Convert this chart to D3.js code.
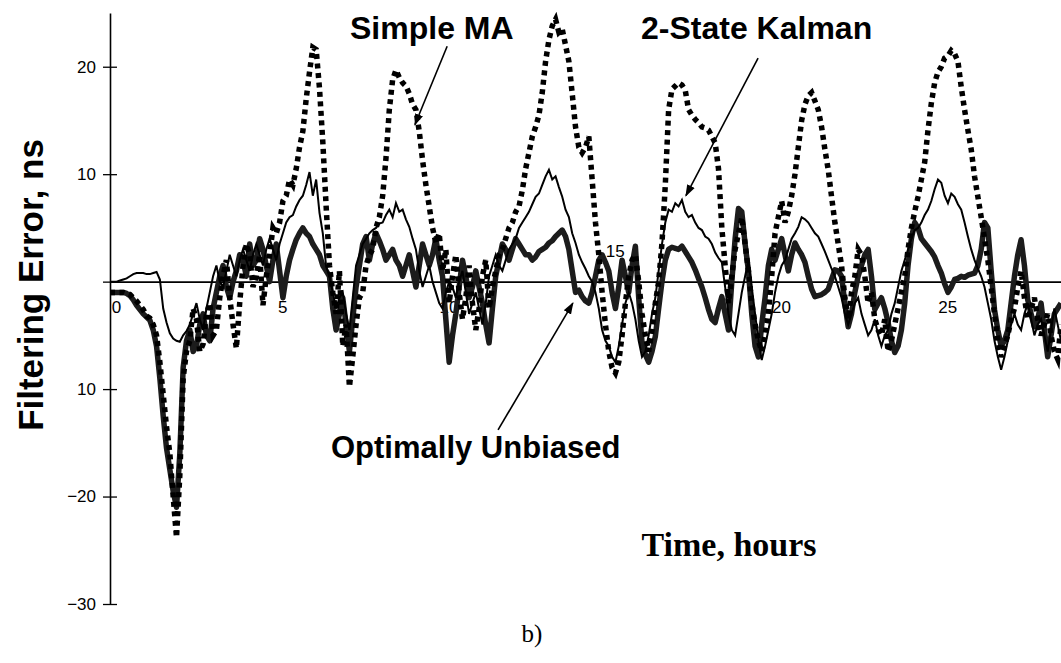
<!DOCTYPE html>
<html>
<head>
<meta charset="utf-8">
<script src="https://cdn.jsdelivr.net/npm/d3@7"></script>
<style>
  body { margin: 0; background: #fff; }
  svg { display: block; }
</style>
</head>
<body>
<svg id="chart" width="1061" height="663"></svg>
<script>
// sampling times, hours (one reading every 0.1 h, 0 .. 28.6)
var hours = d3.range(287).map(function(i) { return +(i * 0.1).toFixed(1); });

// filtering error, ns
var simpleMA = [
  -1.0, -1.0, -1.0, -1.0, -1.0, -1.1, -1.2, -1.5, -1.8, -2.2, -2.6, -3.2, -3.4, -4.0, -5.0, -7.5, -10.5, -13.5, -16, -20,
  -23.8, -18, -9, -6.5, -5.5, -2.5, -3.5, -6.5, -5.8, -3.0, -2.0, -5.0, -4.5, -1.5, 0.5, 2.0, -1.5, -4.0, -6.2, -2.0,
  1.5, 3.5, 2.5, -0.5, 0.5, 2.5, -2.2, 0.5, 2.5, 5.0, 4.5, 5.5, 7.5, 8.0, 9.5, 9.0, 10.5, 12.5, 14, 17,
  19.5, 21.8, 21.6, 18, 13, 7, 1.5, -1.0, -3.0, 1.0, -6.0, -4.0, -9.8, -7.0, -4.0, -1.5, -1.0, 1.5, 2.5, 3.0,
  5.0, 6.0, 8.0, 11.5, 16, 18.8, 19.7, 19.0, 18.5, 18.2, 17.5, 16.5, 16, 14.0, 11.3, 9.0, 7.0, 5.0, 3.6, 4.5,
  1.0, 3.0, -2.0, 0.5, 2.5, -1.0, -3.5, -1.5, 1.5, -2.0, -4.5, -2.5, 0.5, 2.0, -2.5, -0.5, 1.0, 2.5, 3.0, 4.0,
  5.0, 5.5, 6.5, 7.0, 8.5, 10.5, 12, 13.5, 14.4, 15.5, 17.6, 20.5, 22.5, 23.8, 24.4, 23.2, 23.5, 22.0, 20.5, 17.5,
  14.4, 12.5, 12, 12.5, 13.5, 9.5, 5.5, 2.5, -1.0, -4.0, -6.5, -8.0, -8.5, -7.5, -5.0, -2.0, 0.5, 2.0, 2.5, 0.0,
  -3.0, -5.0, -6.5, -4.5, -2.0, 0.0, 3.6, 9.0, 16, 17.9, 18.2, 18.5, 18.3, 17.8, 16, 15.5, 15.1, 14.8, 14.4, 14.3,
  14.1, 13.5, 12.9, 10.5, 5.0, 1.5, -2.0, 0.5, 3.0, 4.5, 6.0, 3.5, 1.0, -2.0, -4.0, -5.5, -6.5, -5.0, -3.0, 0.5,
  4.5, 6.0, 7.5, 5.5, 6.5, 8.0, 10, 12.5, 15, 16.5, 17.3, 17.6, 16.8, 16.0, 14.4, 12.3, 10.4, 7.9, 5.5, 3.5,
  1.5, -1.5, -3.5, -1.0, 0.5, 3.0, 2.5, 0.5, -2.0, -1.0, -3.5, -4.5, -5.0, -3.5, -6.5, -5.5, -4.0, -2.5, -1.0, 0.5,
  3.0, 5.0, 6.5, 7.9, 9.5, 11.1, 14.1, 16.6, 18.5, 19.5, 20, 20.8, 21, 21.5, 21.2, 20.5, 18.1, 16.0, 14.1, 12.3,
  9.8, 7.9, 6.0, 4.0, 2.0, -0.5, -3.0, -5.5, -7.0, -6.0, -5.0, -3.5, -2.5, -0.5, 1.0, -1.5, -3.5, -2.5, -1.5, -3.5,
  -5.0, -4.0, -3.0, -5.0, -6.5, -7.2, -4.0
];

var kalman2 = [
  0, 0, 0, 0.1, 0.2, 0.3, 0.5, 0.7, 0.8, 0.8, 0.8, 0.7, 0.7, 0.8, 0.9, 0.2, -2.5, -3.8, -4.8, -5.3,
  -5.5, -5.6, -5.0, -4.6, -4.0, -3.0, -2.0, -3.5, -4.5, -2.5, -1.0, 0.5, 1.5, 0.0, -0.5, 1.0, 2.5, 1.5, 0.5, 2.0,
  3.0, 2.0, 1.0, 2.5, 3.5, 2.5, 1.5, 3.0, 4.0, 3.0, 2.0, 3.5, 4.5, 5.5, 6.0, 6.2, 7.0, 7.6, 8.0, 9.0,
  10.2, 8.0, 9.5, 6.4, 4.5, 1.4, 0.5, -1.0, -2.5, -1.5, -1.0, -3.0, -4.5, -1.5, 1.5, 2.5, 3.5, 4.0, 4.5, 4.8,
  5.0, 5.4, 5.5, 6.2, 6.7, 6.0, 7.3, 6.5, 6.7, 5.8, 5.1, 4.0, 3.0, 1.0, -0.5, 0.5, 1.5, 0.0, -1.0, -2.0,
  -2.5, -1.0, 0.0, -0.5, -1.5, 0.0, 1.0, -1.0, -3.0, -2.0, -1.0, -2.5, -4.0, -2.0, 0.5, 1.5, 2.5, 1.5, 1.0, 2.0,
  3.0, 3.5, 4.0, 5.0, 5.5, 6.0, 6.5, 7.2, 7.9, 8.2, 9.0, 9.8, 10.4, 9.5, 9.8, 8.8, 7.9, 6.7, 6.0, 4.5,
  3.6, 2.5, 1.8, 1.2, 0.5, 0.0, -1.0, -2.5, -4.5, -5.5, -6.0, -7.0, -7.5, -6.0, -4.0, -2.0, -1.0, -2.0, -3.5, -5.5,
  -7.0, -6.5, -5.0, -3.0, -1.5, 1.0, 3.5, 5.5, 6.7, 6.5, 7.3, 7.0, 7.6, 6.5, 6.0, 6.2, 5.5, 5.0, 4.8, 4.2,
  4.0, 3.5, 2.7, 2.2, 1.8, -0.5, -3.0, -4.5, -5.0, -3.0, -1.0, 0.5, 2.0, -0.5, -3.0, -5.5, -7.3, -6.0, -4.5, -3.0,
  -1.0, 0.5, 1.5, 2.0, 3.0, 4.0, 4.5, 5.1, 6.0, 5.8, 5.5, 5.0, 4.5, 4.2, 3.5, 2.8, 2.0, 1.2, 0.5, -0.5,
  -1.5, -3.0, -4.0, -3.0, -2.0, -1.5, -3.0, -4.0, -5.0, -4.5, -3.5, -5.0, -6.0, -5.0, -4.5, -3.0, -2.0, -0.5, 1.0, 2.0,
  3.0, 4.0, 4.8, 5.0, 5.5, 6.2, 6.7, 7.5, 8.6, 9.5, 9.2, 8.0, 7.3, 8.2, 7.9, 7.2, 6.7, 5.5, 4.2, 3.0,
  2.0, 1.2, 0.5, -0.5, -2.0, -3.5, -5.5, -7.0, -8.2, -7.0, -5.5, -4.0, -3.0, -4.0, -4.5, -3.0, -2.0, -3.5, -5.0, -4.0,
  -3.5, -5.0, -6.5, -4.5, -2.5, -4.0, -5.5
];

var optUnbiased = [
  -1.0, -1.0, -1.0, -1.0, -1.0, -1.1, -1.3, -1.7, -2.2, -2.6, -3.0, -3.3, -3.6, -4.5, -6.0, -9.0, -12.5, -15.5, -17.5, -19.5,
  -21.0, -16, -8.0, -5.5, -4.5, -6.5, -6.0, -4.0, -3.0, -5.0, -5.5, -2.5, -1.0, 0.5, 1.5, -0.5, -1.5, 0.0, 1.0, 2.5,
  2.0, 0.5, 3.5, 1.5, 2.0, 4.0, 3.0, 1.5, 0.0, 2.0, 3.5, 1.0, -1.5, 0.5, 2.0, 3.0, 3.9, 4.5, 5.0, 4.5,
  4.2, 3.5, 3.0, 2.5, 1.5, 1.0, 0.5, -2.5, -4.5, -3.0, -1.5, -4.0, -6.5, -3.5, -0.5, 1.5, 3.5, 4.2, 2.0, 3.5,
  4.5, 3.8, 3.0, 2.0, 2.5, 3.0, 2.0, 1.5, 0.5, 1.5, 2.5, 1.0, -0.5, 1.5, 3.5, 2.5, 1.5, 2.5, 4.0, 2.0,
  0.5, -3.5, -7.5, -5.0, -3.0, -0.5, 2.0, 0.5, -1.5, -0.5, 1.0, -0.5, -2.0, -4.0, -5.7, -2.5, 0.5, 2.0, 3.5, 3.0,
  2.0, 3.0, 4.0, 3.5, 3.0, 2.5, 2.5, 2.0, 2.3, 2.8, 3.0, 3.2, 3.6, 3.8, 4.2, 4.5, 4.8, 4.2, 3.0, 1.0,
  -1.0, -0.8, -1.4, -1.8, -2.0, -1.0, 0.5, 2.0, 2.5, 1.8, 1.0, -1.0, -2.5, -0.5, 2.0, 0.5, -1.0, 1.5, 3.3, -1.5,
  -5.7, -6.8, -7.5, -6.5, -5.1, -2.5, 0.0, 2.0, 3.0, 3.2, 3.1, 3.0, 3.3, 2.8, 2.3, 1.8, 1.1, 0.3, -0.5, -1.5,
  -2.6, -3.5, -3.8, -2.5, -1.4, -3.0, -4.5, 0.0, 4.0, 6.8, 6.5, 3.5, 1.0, -3.0, -6.0, -7.0, -4.0, -1.5, 1.5, 3.0,
  2.0, 3.0, 4.0, 2.5, 1.0, 2.5, 3.6, 3.0, 2.5, 1.8, 0.5, -0.7, -1.4, -1.3, -1.2, -1.0, -0.7, 0.2, 1.1, 1.0,
  0.5, -2.0, -4.2, -3.0, -1.0, 0.5, 1.5, 2.5, 3.0, 0.5, -2.6, -2.0, -1.5, -2.5, -3.8, -5.5, -6.6, -6.0, -4.5, -2.0,
  1.5, 4.0, 5.5, 5.0, 4.0, 3.6, 3.2, 2.8, 2.3, 1.5, 0.8, -0.2, -1.0, -0.5, 0.2, 0.3, 0.5, 0.4, 0.6, 0.7,
  0.8, 1.5, 3.0, 5.5, 5.0, 1.0, -2.6, -4.5, -6.0, -5.5, -4.5, -2.0, 0.5, 2.5, 3.9, 1.5, -1.7, -3.0, -4.2, -3.5,
  -2.0, -4.5, -7.0, -5.0, -3.0, -2.5, -2.0
];

var yTicks = [20, 10, 0, -10, -20, -30];
var yTickLabels = ["20", "10", "", "10", "\u221220", "\u221230"];
var xTicks = [0, 5, 10, 15, 20, 25];

// callouts: label, arrow tail and head in data units (hours, ns)
var callouts = [
  { name: "Simple MA", from: [10.14, 21.9], to: [9.17, 14.6] },
  { name: "2-State Kalman", from: [19.49, 20.8], to: [17.32, 8.0] },
  { name: "Optimally Unbiased", from: [11.67, -13.8], to: [13.92, -2.0] }
];

var svg = d3.select("#chart");
var sans = "'Liberation Sans', Arial, Helvetica, sans-serif";
var serif = "'Liberation Serif', 'Times New Roman', Times, serif";

var x = d3.scaleLinear().domain([0, 28.6]).range([110, 1061]);
var y = d3.scaleLinear().domain([-30, 25]).range([604, 13]);

// y axis, ticks cross the line
var gy = svg.append("g")
  .attr("transform", "translate(110,0)")
  .call(d3.axisLeft(y).tickValues(yTicks).tickSize(7).tickSizeOuter(0)
    .tickFormat(function(d, i) { return yTickLabels[i]; }));
gy.select(".domain").attr("stroke", "#000").attr("stroke-width", 1.6);
gy.selectAll(".tick line").attr("x1", 7).attr("stroke", "#000").attr("stroke-width", 1.3);
gy.selectAll(".tick text")
  .attr("x", -14)
  .attr("fill", "#000")
  .style("font-family", sans)
  .style("font-size", "17px");

// x axis drawn along zero
var gx = svg.append("g")
  .attr("transform", "translate(0," + y(0) + ")")
  .call(d3.axisBottom(x).tickValues(xTicks).tickSize(0).tickSizeOuter(0));
gx.select(".domain").attr("stroke", "#000").attr("stroke-width", 1.6);
gx.selectAll(".tick text")
  .attr("dy", null)
  .attr("dx", 6)
  .attr("y", function(d) { return d === 15 ? -25 : 31; })
  .attr("fill", "#000")
  .style("font-family", sans)
  .style("font-size", "17px");

var line = d3.line()
  .x(function(d, i) { return x(hours[i]); })
  .y(function(d) { return y(d); });

svg.append("path")
  .datum(optUnbiased)
  .attr("d", line)
  .attr("fill", "none")
  .attr("stroke", "#1c1c1c")
  .attr("stroke-width", 5.5)
  .attr("stroke-linejoin", "round");

svg.append("path")
  .datum(simpleMA)
  .attr("d", line)
  .attr("fill", "none")
  .attr("stroke", "#000")
  .attr("stroke-width", 5.5)
  .attr("stroke-dasharray", "5,4.5")
  .attr("stroke-linecap", "butt");

svg.append("path")
  .datum(kalman2)
  .attr("d", line)
  .attr("fill", "none")
  .attr("stroke", "#000")
  .attr("stroke-width", 2)
  .attr("stroke-linejoin", "miter");

// arrow heads
svg.append("defs").append("marker")
  .attr("id", "head")
  .attr("viewBox", "0 0 10 10")
  .attr("refX", 9).attr("refY", 5)
  .attr("markerWidth", 12).attr("markerHeight", 12)
  .attr("markerUnits", "userSpaceOnUse")
  .attr("orient", "auto")
  .append("path")
  .attr("d", "M0,1.5L10,5L0,8.5Z")
  .attr("fill", "#000");

svg.selectAll("line.callout")
  .data(callouts)
  .enter().append("line")
  .attr("class", "callout")
  .attr("x1", function(d) { return x(d.from[0]); })
  .attr("y1", function(d) { return y(d.from[1]); })
  .attr("x2", function(d) { return x(d.to[0]); })
  .attr("y2", function(d) { return y(d.to[1]); })
  .attr("stroke", "#000")
  .attr("stroke-width", 1.6)
  .attr("marker-end", "url(#head)");

// callout labels
svg.append("text").attr("x", 350).attr("y", 39)
  .style("font", "bold 32px " + sans).text(callouts[0].name);
svg.append("text").attr("x", 641).attr("y", 39)
  .style("font", "bold 32px " + sans).text(callouts[1].name);
svg.append("text").attr("x", 331).attr("y", 458)
  .style("font", "bold 31px " + sans).text(callouts[2].name);

// axis titles
svg.append("text")
  .attr("transform", "translate(43,285) rotate(-90)")
  .attr("text-anchor", "middle")
  .style("font", "bold 35px " + sans)
  .text("Filtering Error, ns");

svg.append("text")
  .attr("x", 729).attr("y", 556)
  .attr("text-anchor", "middle")
  .style("font", "bold 34px " + serif)
  .text("Time, hours");

svg.append("text")
  .attr("x", 532).attr("y", 642)
  .attr("text-anchor", "middle")
  .style("font", "25px " + serif)
  .text("b)");
</script>
</body>
</html>
